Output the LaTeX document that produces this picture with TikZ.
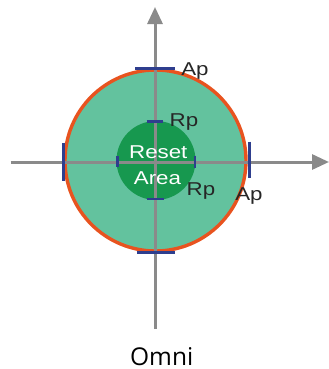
\documentclass[tikz,border=0pt]{standalone}
\usepackage{fontspec}
\setmainfont{Liberation Sans}
\newfontfamily\omnifont{Open Sans}
\usetikzlibrary{arrows.meta}
\definecolor{mint}{HTML}{63C29E}
\definecolor{dgreen}{HTML}{17984F}
\definecolor{ring}{HTML}{E8531F}
\definecolor{tickblue}{HTML}{2E3E8E}
\definecolor{axisgray}{HTML}{8A8A8A}
\tikzset{
  axisline/.style={draw=axisgray, line width=3bp, -{Triangle[length=17bp,width=15bp]}},
  outertick/.style={draw=tickblue, line width=3bp},
  innertick/.style={draw=tickblue, line width=2.8bp},
  lbl/.style={anchor=base, inner sep=0pt, font=\fontsize{18.6bp}{20bp}\selectfont, text=black!85},
  wlbl/.style={anchor=base, inner sep=0pt, font=\fontsize{18.6bp}{20bp}\selectfont, text=white},
}
\newcommand{\wide}[1]{\scalebox{1.2}[1]{#1}}
\begin{document}
\begin{tikzpicture}[x=1bp,y=-1bp]
\useasboundingbox (0,0) rectangle (329,369);
% circles
\coordinate (c) at (155.5,160.5);
\fill[mint] (c) circle[radius=90.5];
\draw[ring, line width=3.4bp] (c) circle[radius=90.5];
\fill[dgreen] (156,160.5) circle[radius=39.5];
% axes
\coordinate (vb) at (155,329);
\coordinate (vt) at (155,7);
\coordinate (hl) at (10.5,162);
\coordinate (hr) at (329,162);
\draw[axisline] (vb) -- (vt);
\draw[axisline] (hl) -- (hr);
% outer ticks
\draw[outertick] (135,68.5) -- (174.5,68.5);
\draw[outertick] (136.5,252.5) -- (175,252.5);
\draw[outertick] (63.5,142.5) -- (63.5,181);
\draw[outertick] (249.3,141.5) -- (249.3,178);
% inner ticks
\draw[innertick] (146.5,121.7) -- (163,121.7);
\draw[innertick] (146.5,199) -- (163.5,199);
\draw[innertick] (117.3,156) -- (117.3,167);
\draw[innertick] (195,155.5) -- (195,168);
% labels
\node[lbl] (ap1) at (195,75) {\wide{Ap}};
\node[lbl] (rp1) at (184,126.7) {\wide{Rp}};
\node[wlbl] (reset) at (158.3,158.3) {\wide{Reset}};
\node[wlbl] (area) at (157.5,184.3) {\wide{Area}};
\node[lbl] (rp2) at (201,195) {\wide{Rp}};
\node[lbl] (ap2) at (249,200) {\wide{Ap}};
\node[anchor=base, inner sep=0pt, text depth=0pt, font=\omnifont\fontsize{24.5bp}{26bp}\selectfont] (omni) at (161.7,365) {Omni};
\end{tikzpicture}
\end{document}
